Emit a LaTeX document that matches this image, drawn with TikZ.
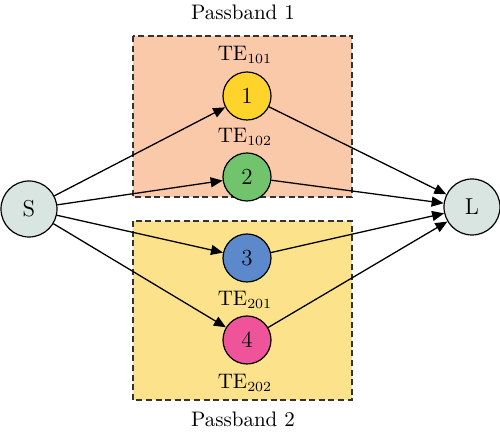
\documentclass[tikz,border=0pt]{standalone}
\usetikzlibrary{arrows.meta}

\definecolor{bandone}{HTML}{FAC9AA}
\definecolor{bandtwo}{HTML}{FCE38B}
\definecolor{teone}{HTML}{FFD42A}
\definecolor{tetwo}{HTML}{72C46C}
\definecolor{tethree}{HTML}{5C89CB}
\definecolor{tefour}{HTML}{EF5399}
\definecolor{termgray}{HTML}{D9E5E0}

\tikzset{
  tenode/.style={circle,draw,line width=0.6pt,minimum size=24pt,inner sep=0pt,font=\fontsize{11.5}{13}\selectfont},
  termnode/.style={tenode,minimum size=28pt,fill=termgray},
  bandbox/.style={draw=black!80,dash pattern=on 3pt off 1.8pt,line width=0.6pt},
  link/.style={-{Triangle[length=6pt,width=5pt]},line width=0.65pt}
}

\begin{document}
\begin{tikzpicture}[x=0.5pt,y=-0.5pt,font=\fontsize{10.5}{12.6}\selectfont]
\useasboundingbox (0,0) rectangle (500,437);

\draw[bandbox,fill=bandone] (133,36) rectangle (352,197);
\draw[bandbox,fill=bandtwo] (133,221) rectangle (352,400);

\node (pb1) at (243,12) {Passband 1};
\node (pb2) at (243,419) {Passband 2};

\node[termnode] (s) at (29,209) {S};
\node[termnode] (l) at (472,207) {L};

\node[tenode,fill=teone] (te1) at (247,96) {1};
\node[tenode,fill=tetwo] (te2) at (247,177) {2};
\node[tenode,fill=tethree] (te3) at (247,258) {3};
\node[tenode,fill=tefour] (te4) at (247,340) {4};

\node (lab101) at (245,55) {TE$_{101}$};
\node (lab102) at (245,137) {TE$_{102}$};
\node (lab201) at (245,300) {TE$_{201}$};
\node (lab202) at (245,383) {TE$_{202}$};

\draw[link] (s) -- (te1);
\draw[link] (s) -- (te2);
\draw[link] (s) -- (te3);
\draw[link] (s) -- (te4);

\draw[link] (te1) -- (l);
\draw[link] (te2) -- (l);
\draw[link] (te3) -- (l);
\draw[link] (te4) -- (l);

\end{tikzpicture}
\end{document}
